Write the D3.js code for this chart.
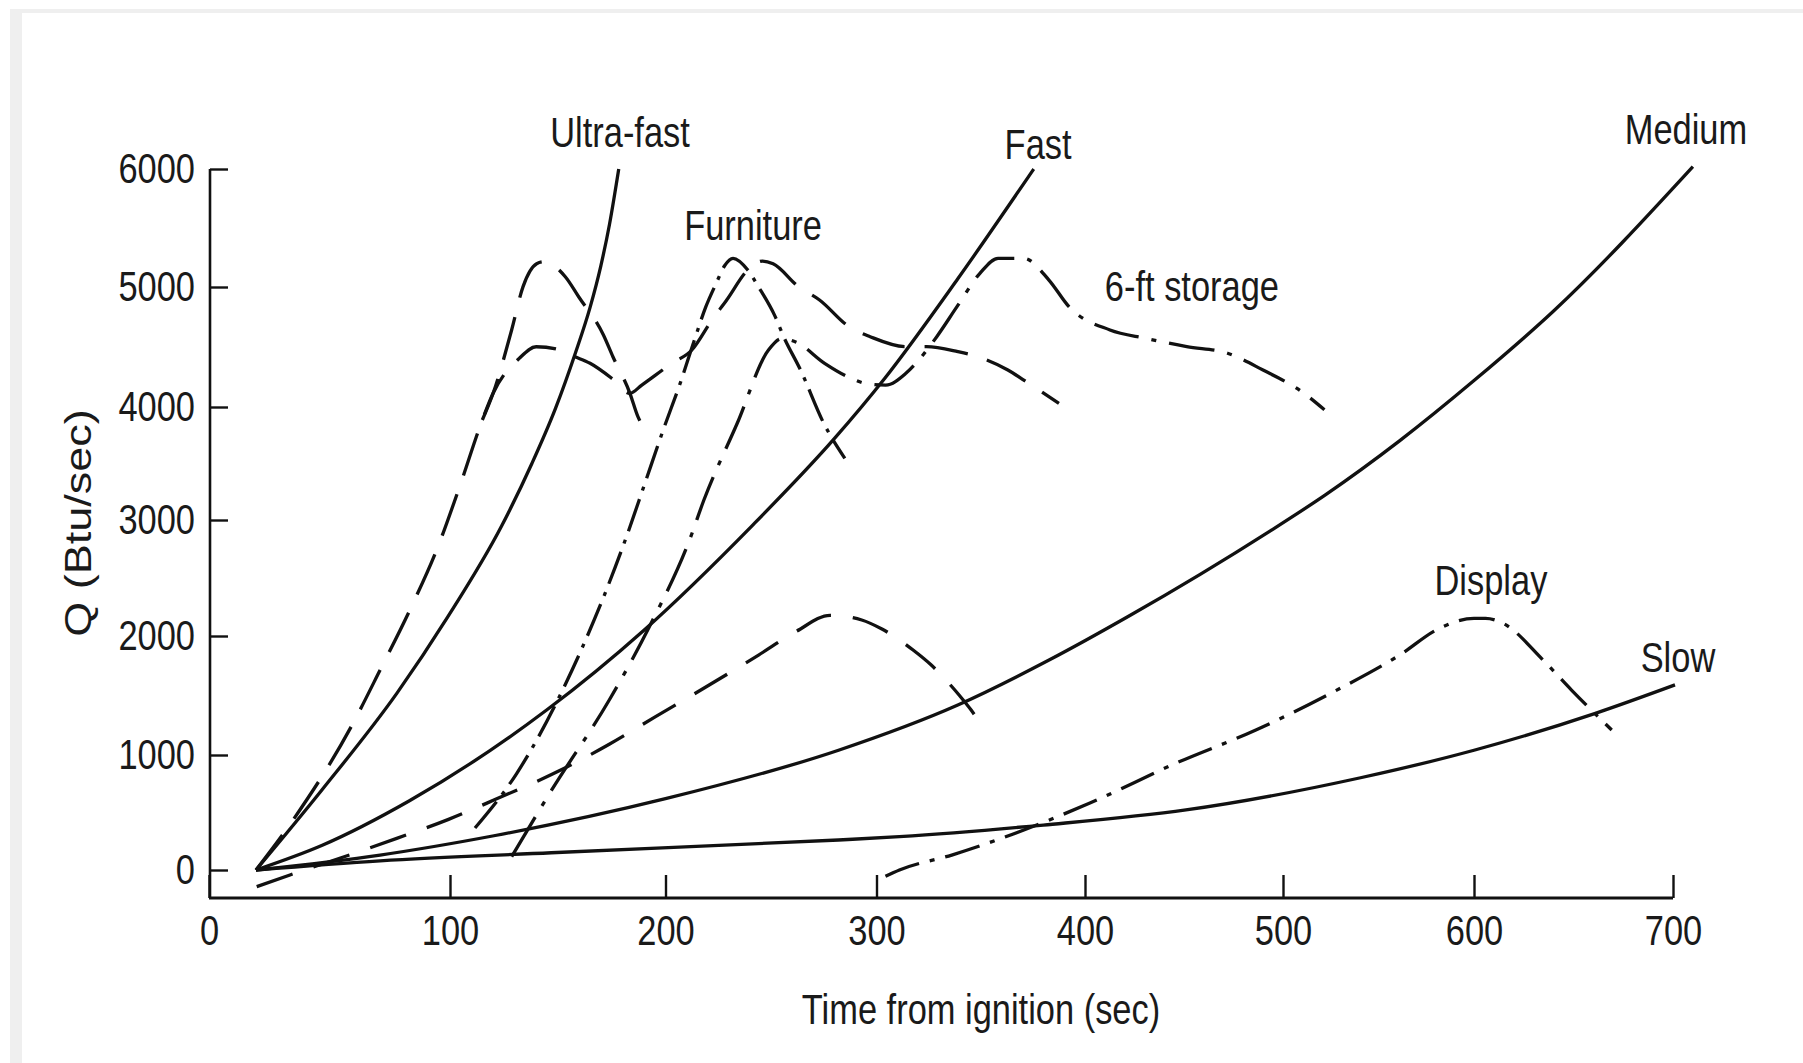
<!DOCTYPE html>
<html>
<head>
<meta charset="utf-8">
<script src="https://cdn.jsdelivr.net/npm/d3@7"></script>
<style>
html, body { margin: 0; padding: 0; background: #fff; }
svg { display: block; }
text { font-family: "Liberation Sans", Arial, Helvetica, sans-serif; fill: #1a1a1a; }
</style>
</head>
<body>
<svg id="chart" width="1803" height="1063"></svg>
<script>
// ---------------- DATA ----------------
const xTicks = [0, 100, 200, 300, 400, 500, 600, 700];
const yTicks = [0, 1000, 2000, 3000, 4000, 5000, 6000];
const xTitle = "Time from ignition (sec)";
const yTitle = "Q (Btu/sec)";

// [time (sec), Q (Btu/sec)]
const ultraFast = [[19.5,0],[47,700],[78,1520],[99,2162],[124,2950],[138,3500],[149,3990],[158,4440],[165,4830],[170,5180],[174,5530],[178.3,6000]];
const fast = [[19.5,0],[47,215],[83,600],[145,1380],[190,2050],[241,2950],[280,3720],[304,4240],[339,5070],[375.4,6000]];
const medium = [[19.5,0],[71,130],[121,300],[200,620],[282,1040],[339,1420],[383,1800],[422,2170],[493,2900],[522,3220],[561,3700],[600,4220],[640,4800],[710,6020]];
const slow = [[19.5,0],[71,80],[147,150],[282,261],[311,290],[380,391],[451,522],[540,800],[600,1040],[661,1350],[701,1589]];

const testPlateau = [[19.5,0],[34,409],[59,1238],[71,1714],[84,2253],[95,2770],[105,3325],[115,3885],[120,4114],[132,4403],[140,4502],[150,4480],[158,4419],[165,4364],[175,4240],[183.5,4114],[189,4183],[203,4364],[212.5,4475],[222,4725],[229,4892],[239,5144],[246,5220],[251,5197],[263,5003],[273,4892],[287,4669],[297,4586],[314,4503],[324,4503],[339,4461],[348.5,4419],[363,4308],[373,4197],[387.5,4031]];
const testPeak = [[115,3885],[120,4114],[128.6,4642],[133.9,5003],[140.2,5197],[143.7,5214],[153.5,5087],[159.7,4919],[171.2,4600],[175.6,4419],[183.5,4114],[187.2,3914],[191.6,3781]];
const furniture = [[111.6,365],[131,841],[153,1574],[183,2914],[190,3300],[199,3800],[207,4200],[213,4520],[219,4830],[224,5030],[228,5180],[232,5243],[239,5144],[244,5003],[252,4753],[256,4586],[264,4308],[275,3856],[285,3546]];
const storage6ft = [[128.6,116],[147.2,696],[173.9,1462],[192.5,2080],[211.4,2828],[218.2,3177],[234,3856],[248.8,4475],[255,4570],[262,4540],[275.4,4364],[289.8,4225],[294.5,4197],[304.4,4183],[314.1,4281],[320.3,4392],[328.9,4586],[338.6,4836],[349.6,5116],[358.3,5243],[370.5,5243],[382.7,5059],[392.3,4836],[412.6,4642],[430.8,4572],[451.4,4503],[472,4448],[489.9,4308],[511,4114],[521.7,3975]];
const testLow = [[19.8,-145],[33.6,-43],[63.7,170],[77.9,275],[99.4,440],[120.6,610],[152.6,880],[173.9,1090],[195.2,1320],[220.9,1590],[244.1,1840],[262,2040],[278,2178],[293,2138],[302.6,2060],[317.7,1880],[326,1760],[339.8,1500],[345.3,1380],[350,1260]];
const display = [[304.3,-55],[311,0],[336.1,130],[402.2,580],[445.8,928],[486.3,1210],[524.9,1518],[562.5,1855],[580.3,2052],[600,2152],[605.8,2152],[614.5,2110],[634.7,1798],[649,1546],[669.2,1210]];

const labelTexts = ["Ultra-fast", "Fast", "Medium", "Furniture", "6-ft storage", "Display", "Slow"];
// label anchors in data units [time, Q]
const labelAnchors = [[178.9,6183],[377.5,6085],[706.5,6215],[241.5,5398],[454,4887],[608.5,2356],[702.5,1701]];

// ---------------- LAYOUT ----------------
const W = 1803, H = 1063;
const xRange = [209, 450, 665.5, 876.5, 1085, 1283, 1474, 1673];
const yRange = [870, 755, 636, 520, 407, 287, 169];
const axisYpos = 898;   // x-axis line position
const axisXpos = 210;   // y-axis line position
const SQ = 0.82;        // horizontal squeeze of the scanned lettering
const ink = "#111111";

const svg = d3.select("#chart");

// scanned frame
svg.append("rect").attr("x", 10).attr("y", 9).attr("width", W - 10).attr("height", H - 9).attr("fill", "#efefef");
svg.append("rect").attr("x", 22).attr("y", 13).attr("width", W - 22).attr("height", H - 13).attr("fill", "#ffffff");

const x = d3.scaleLinear().domain(xTicks).range(xRange);
const y = d3.scaleLinear().domain(yTicks).range(yRange);

// ---- Y axis ----
const gy = svg.append("g").attr("transform", `translate(${axisXpos},0)`)
  .call(d3.axisLeft(y).tickValues(yTicks).tickSizeInner(-18).tickSizeOuter(0).tickPadding(15).tickFormat(d3.format("d")));
gy.select(".domain").remove();
gy.selectAll(".tick line").attr("stroke", ink).attr("stroke-width", 2.4);
gy.selectAll(".tick text")
  .attr("x", null)
  .attr("transform", `translate(-15,0) scale(${SQ},1)`)
  .attr("font-size", 42)
  .attr("fill", "#1a1a1a");
gy.append("line").attr("x1", 0).attr("x2", 0).attr("y1", y(6000)).attr("y2", axisYpos)
  .attr("stroke", ink).attr("stroke-width", 2.6);

// ---- X axis ----
const gx = svg.append("g").attr("transform", `translate(0,${axisYpos})`)
  .call(d3.axisBottom(x).tickValues(xTicks).tickSizeInner(-23).tickSizeOuter(0).tickPadding(17).tickFormat(d3.format("d")));
gx.select(".domain").remove();
gx.selectAll(".tick line").attr("stroke", ink).attr("stroke-width", 2.4);
gx.selectAll(".tick text")
  .attr("transform", `scale(${SQ},1)`)
  .attr("font-size", 42)
  .attr("fill", "#1a1a1a");
gx.append("line").attr("x1", x(0)).attr("x2", x(700)).attr("y1", 0).attr("y2", 0)
  .attr("stroke", ink).attr("stroke-width", 2.8);

// ---- curves ----
const series = [
  { data: ultraFast,   dash: null },
  { data: fast,        dash: null },
  { data: medium,      dash: null },
  { data: slow,        dash: null },
  { data: testPlateau, dash: "44,20" },
  { data: testPeak,    dash: "44,20" },
  { data: testLow,     dash: "38,22" },
  { data: furniture,   dash: "34,9,4,9" },
  { data: storage6ft,  dash: "46,13,5,13" },
  { data: display,     dash: "36,11,5,11" }
];

const line = d3.line().x(d => x(d[0])).y(d => y(d[1])).curve(d3.curveMonotoneX);

svg.append("g").selectAll("path").data(series).join("path")
  .attr("d", d => line(d.data))
  .attr("fill", "none")
  .attr("stroke", ink)
  .attr("stroke-width", 3.3)
  .attr("stroke-linecap", "butt")
  .attr("stroke-linejoin", "round")
  .attr("stroke-dasharray", d => d.dash);

// ---- curve labels ----
svg.append("g").selectAll("text").data(labelTexts).join("text")
  .attr("transform", (d, i) => `translate(${x(labelAnchors[i][0])},${y(labelAnchors[i][1])}) scale(${SQ},1)`)
  .attr("text-anchor", "middle")
  .attr("font-size", 42)
  .text(d => d);

// ---- axis titles ----
svg.append("text")
  .attr("transform", `translate(981,1024) scale(${SQ},1)`)
  .attr("text-anchor", "middle")
  .attr("font-size", 42)
  .text(xTitle);

svg.append("text")
  .attr("transform", `translate(91,523) rotate(-90) scale(1,${SQ})`)
  .attr("text-anchor", "middle")
  .attr("font-size", 45)
  .text(yTitle);
</script>
</body>
</html>
